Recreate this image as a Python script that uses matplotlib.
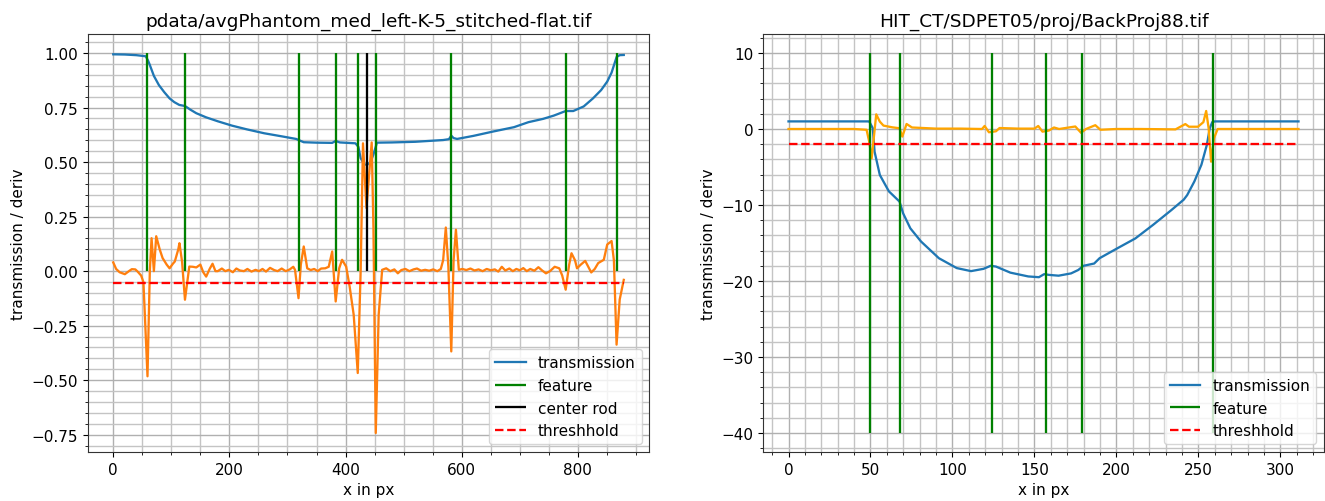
import matplotlib
matplotlib.use("Agg")
import matplotlib.pyplot as plt
from matplotlib.ticker import AutoMinorLocator

# ---------------- left panel data ----------------
left_title = "pdata/avgPhantom_med_left-K-5_stitched-flat.tif"
left_trans_x = [0, 20, 40, 56, 60, 63, 70, 78.6, 88, 97, 105, 113.7, 123.5, 133, 143, 160, 180,
                204.5, 230, 260, 290, 315, 320, 328, 350, 377, 383, 390, 417, 422, 426, 432, 437,
                443, 447.7, 452, 454, 480, 520, 568, 578, 582, 586, 592, 620, 654, 690, 715,
                740, 758.5, 779, 792, 810, 826, 840, 850.5, 858, 866.7, 872, 879]
left_trans_y = [0.994, 0.993, 0.99, 0.985, 0.965, 0.945, 0.895, 0.853, 0.82, 0.792, 0.775, 0.762,
                0.757, 0.74, 0.724, 0.705, 0.687, 0.667, 0.65, 0.632, 0.618, 0.606, 0.6, 0.591,
                0.589, 0.588, 0.597, 0.59, 0.586, 0.57, 0.518, 0.49, 0.487, 0.5, 0.533, 0.57,
                0.589, 0.59, 0.593, 0.601, 0.605, 0.621, 0.61, 0.606, 0.62, 0.64, 0.66, 0.683,
                0.698, 0.713, 0.734, 0.734, 0.755, 0.792, 0.83, 0.869, 0.91, 0.982, 0.99, 0.991]

left_deriv_x = [0, 5, 11, 20, 27, 32, 38, 42, 48, 52, 59, 63, 66, 70, 74, 80, 85, 92, 97, 103,
                106, 112, 114, 118.5, 123.5, 131, 137, 143, 150, 155, 160, 166, 171, 176, 180,
                187, 193, 199, 206, 212, 218, 225, 231, 238, 245, 251, 257, 263, 270, 277, 283,
                290, 297, 304, 310, 313, 319, 323, 328, 334, 340, 346, 352, 358, 365, 371, 377,
                383, 389, 394, 401, 407, 414, 421, 426, 430, 436, 445, 448, 452, 457, 463, 470,
                477, 484, 490, 496, 503, 510, 517, 523, 530, 537, 544, 551, 558, 564, 568, 572.6,
                577, 582, 586, 590, 595, 601, 608, 615, 622, 629, 636, 643, 650, 657, 663, 669,
                675, 682, 688, 694, 700, 706, 712, 718, 725, 732, 738, 745, 752, 760, 768, 773,
                779, 785, 789, 795, 798.5, 805, 812.6, 818, 823, 829, 835, 840, 844.6, 850.5,
                858, 862, 866.6, 872, 879]
left_deriv_y = [0.04, 0.01, -0.005, -0.014, 0.0, 0.009, 0.008, -0.002, -0.02, -0.05, -0.482, 0.0,
                0.151, 0.0, 0.16, 0.1, 0.06, 0.03, 0.013, 0.035, 0.044, 0.1, 0.128, 0.044, -0.131,
                0.021, 0.02, 0.017, 0.03, -0.005, -0.025, 0.01, 0.034, 0.0, 0.0, 0.012, 0.0, 0.006,
                -0.005, 0.012, 0.003, 0.0, 0.01, -0.002, 0.006, 0.0, 0.01, -0.002, 0.015, 0.005,
                0.0, 0.012, 0.0, 0.008, 0.02, 0.006, -0.124, 0.03, 0.113, 0.013, 0.005, 0.01, 0.0,
                0.012, 0.013, 0.02, 0.09, -0.139, 0.013, 0.052, 0.021, -0.07, -0.2, -0.467, 0.0,
                0.586, 0.289, 0.59, 0.2, -0.742, -0.2, 0.006, 0.013, 0.0, 0.008, -0.01, 0.005,
                0.01, 0.0, 0.008, 0.012, 0.002, 0.006, 0.002, 0.008, 0.0, 0.01, 0.05, 0.2, 0.02,
                -0.368, 0.05, 0.19, 0.006, 0.01, 0.005, 0.012, 0.003, 0.008, 0.0, 0.01, 0.004,
                0.008, -0.002, 0.02, 0.003, 0.012, 0.0, 0.01, 0.004, 0.014, 0.0, 0.01, 0.002,
                0.018, 0.004, -0.01, 0.0, 0.02, 0.013, -0.02, -0.085, 0.03, 0.082, 0.05, 0.013,
                0.03, 0.047, 0.02, -0.006, 0.01, 0.037, 0.045, 0.052, 0.122, 0.138, 0.05, -0.337,
                -0.13, -0.04]
left_features = [58, 124, 320, 383, 422, 452, 582, 780, 867]
left_center_rod = [437]
left_threshold = -0.055
left_x_range = [0, 879]

# ---------------- right panel data ----------------
right_title = "HIT_CT/SDPET05/proj/BackProj88.tif"
right_trans_x = [0, 20, 40, 49.2, 51.4, 52.5, 55.7, 61.2, 67.7, 69.9, 74.3, 80.8, 91.7, 102.6,
                 111.3, 118.9, 123.3, 126.5, 135.3, 146.2, 152.7, 155.9, 159, 164.7, 172.3,
                 176.7, 179.9, 186.4, 189.7, 200.5, 211.5, 222.4, 233.3, 241, 243.1, 247.5,
                 251.8, 255.1, 256.9, 258.4, 260, 280, 300, 311]
right_trans_y = [1.0, 1.0, 1.0, 1.0, 0.1, -3.0, -6.05, -8.2, -9.55, -11.1, -13.07, -14.8, -17.0,
                 -18.3, -18.7, -18.4, -18.0, -18.1, -18.9, -19.4, -19.5, -19.1, -19.2, -19.3,
                 -19.0, -18.55, -18.0, -17.7, -17.0, -15.7, -14.4, -12.6, -10.7, -9.3, -8.7,
                 -6.9, -4.7, -2.1, 0.1, 0.9, 1.0, 1.0, 1.0, 1.0]

right_deriv_x = [0, 20, 40, 47.6, 49.2, 50.7, 52, 53.5, 55.7, 57.9, 63.3, 67.7, 69.4, 72, 75.3,
                 90, 105, 118, 119.6, 122.2, 126.5, 128.7, 140, 150, 152.3, 154.9, 158.8, 161.9,
                 165, 174.9, 178.4, 181.4, 187.1, 190.2, 200, 215, 236, 242, 244.2, 249.7, 253,
                 254.7, 256.2, 257.7, 259.5, 261.7, 280, 300, 311]
right_deriv_y = [0.0, 0.0, 0.0, -0.1, -1.66, -3.86, -1.2, 1.93, 0.97, 0.45, 0.22, 0.1, -1.0, 0.66,
                 0.2, 0.05, 0.05, 0.0, 0.4, -0.43, -0.3, 0.13, 0.05, 0.05, 0.4, -0.35, -0.2, 0.2,
                 0.0, 0.33, -0.5, 0.0, 0.5, -0.1, 0.0, 0.0, -0.05, 0.65, 0.3, 0.3, 0.9, 2.37, 0.1,
                 -4.3, -1.2, 0.0, 0.0, 0.0, 0.0]
right_features = [50, 68, 124, 157, 179, 259]
right_threshold = -2.0
right_x_range = [0, 311]

W, H = 1325, 502
LW = 1.65
fig = plt.figure(figsize=(W / 100, H / 100), dpi=100)
ax1 = fig.add_axes([87.7 / W, 49 / H, 561.6 / W, 418 / H])
ax2 = fig.add_axes([763 / W, 49 / H, 561 / W, 418 / H])

# left
ax1.plot(left_trans_x, left_trans_y, color="#1f77b4", lw=LW, label="transmission")
ax1.plot(left_deriv_x, left_deriv_y, color="#ff7f0e", lw=LW)
ax1.vlines(left_features, 0, 1, color="green", lw=LW, label="feature")
ax1.vlines(left_center_rod, 0, 1, color="black", lw=LW, label="center rod")
ax1.hlines(left_threshold, left_x_range[0], left_x_range[1], color="red", lw=LW,
           linestyles="--", label="threshhold")
ax1.set_title(left_title, fontsize=13.3)

# right
ax2.plot(right_trans_x, right_trans_y, color="#1f77b4", lw=LW, label="transmission")
ax2.plot(right_deriv_x, right_deriv_y, color="orange", lw=LW)
ax2.vlines(right_features, -40, 10, color="green", lw=LW, label="feature")
ax2.hlines(right_threshold, right_x_range[0], right_x_range[1], color="red", lw=LW,
           linestyles="--", label="threshhold")
ax2.set_title(right_title, fontsize=13.3)

for ax in (ax1, ax2):
    ax.xaxis.set_minor_locator(AutoMinorLocator())
    ax.yaxis.set_minor_locator(AutoMinorLocator())
    ax.grid(which="major", color="#b0b0b0", lw=1.0)
    ax.grid(which="minor", color="#c4c4c4", lw=1.0)
    ax.set_axisbelow(True)
    ax.set_xlabel("x in px", fontsize=11)
    ax.set_ylabel("transmission / deriv", fontsize=11)
    ax.tick_params(labelsize=11)
    ax.legend(loc="lower right", fontsize=11)
    for s in ax.spines.values():
        s.set_color("#333333")

fig.savefig("out.png", dpi=100)
